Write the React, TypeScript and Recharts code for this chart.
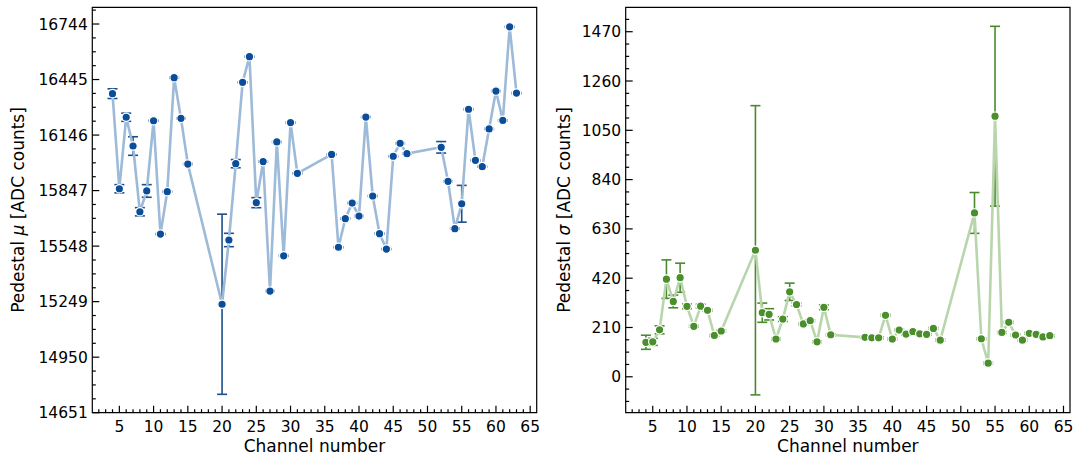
import React from 'react';
import { ComposedChart, Line, XAxis, YAxis, ErrorBar, ReferenceArea, Label } from 'recharts';

const channels = [4, 5, 6, 7, 8, 9, 10, 11, 12, 13, 14, 15, 20, 21, 22, 23, 24, 25, 26, 27, 28, 29, 30, 31, 36, 37, 38, 39, 40, 41, 42, 43, 44, 45, 46, 47, 52, 53, 54, 55, 56, 57, 58, 59, 60, 61, 62, 63];

const pedestalMu = [16369, 15857, 16242, 16087, 15733, 15845, 16223, 15613, 15841, 16455, 16236, 15990,
  15235, 15581, 15992, 16430, 16568, 15782, 16003, 15306, 16109, 15496, 16213, 15940,
  16042, 15542, 15696, 15780, 15710, 16243, 15818, 15615, 15532, 16032, 16102, 16046,
  16080, 15897, 15642, 15776, 16285, 16010, 15976, 16179, 16383, 16225, 16729, 16372];

const pedestalMuErr = [26, 22, 22, 50, 22, 34, 3, 3, 3, 3, 3, 3,
  485, 36, 22, 3, 3, 27, 3, 3, 3, 3, 3, 3,
  3, 3, 3, 3, 3, 3, 3, 3, 3, 3, 3, 3,
  31, 3, 3, 99, 3, 3, 3, 3, 3, 3, 3, 3];

const pedestalSigma = [147, 149, 200, 416, 321, 422, 300, 215, 301, 283, 176, 195,
  539, 273, 266, 161, 246, 362, 308, 225, 239, 149, 296, 179,
  168, 166, 166, 262, 161, 199, 182, 193, 183, 181, 206, 156,
  698, 162, 58, 1110, 189, 232, 178, 156, 185, 181, 170, 175];

const pedestalSigmaErr = [30, 15, 17, 82, 27, 62, 10, 4, 8, 4, 4, 4,
  616, 41, 24, 4, 10, 37, 6, 4, 4, 4, 10, 4,
  4, 4, 4, 4, 4, 4, 4, 4, 4, 4, 4, 4,
  87, 4, 4, 383, 4, 4, 4, 4, 4, 4, 4, 4];

const xMajorTicks = [5, 10, 15, 20, 25, 30, 35, 40, 45, 50, 55, 60, 65];
const muMajorTicks = [14651, 14950, 15249, 15548, 15847, 16146, 16445, 16744];
const sigmaMajorTicks = [0, 210, 420, 630, 840, 1050, 1260, 1470];

const xDomain: [number, number] = [1.05, 65.95];
const muDomain: [number, number] = [14651, 16834];
const sigmaDomain: [number, number] = [-153, 1574];

const FONT = "'DejaVu Sans', sans-serif";
const TICK_FS = 15.5;
const LABEL_FS = 17;

function minorTicks(majors: number[], ndiv: number, domain: [number, number]) {
  const step = (majors[1] - majors[0]) / ndiv;
  const out: number[] = [];
  const start = majors[0] - step * Math.floor((majors[0] - domain[0]) / step);
  for (let v = start; v <= domain[1] + 1e-9; v += step) out.push(Math.round(v * 100) / 100);
  return out;
}

const xAllTicks = minorTicks(xMajorTicks, 5, xDomain);
const muAllTicks = minorTicks(muMajorTicks, 4, muDomain);
const sigmaAllTicks = minorTicks(sigmaMajorTicks, 4, sigmaDomain);

const isMajor = (majors: number[], v: number) => majors.some((m) => Math.abs(m - v) < 1e-6);

const makeXTick = (majors: number[]) => (props: any) => {
  const { x, y, payload } = props;
  const major = isMajor(majors, payload.value);
  return (
    <g>
      <line x1={x} x2={x} y1={y} y2={y - (major ? 7 : 3.5)} stroke="#000" strokeWidth={1.2} />
      {major && (
        <text x={x} y={y + 18.8} textAnchor="middle" fontSize={TICK_FS} fontFamily={FONT} fill="#000">
          {payload.value}
        </text>
      )}
    </g>
  );
};

const makeYTick = (majors: number[]) => (props: any) => {
  const { x, y, payload } = props;
  const major = isMajor(majors, payload.value);
  return (
    <g>
      <line x1={x} x2={x + (major ? 7 : 3.5)} y1={y} y2={y} stroke="#000" strokeWidth={1.2} />
      {major && (
        <text x={x - 4.5} y={y} dy="0.36em" textAnchor="end" fontSize={TICK_FS} fontFamily={FONT} fill="#000">
          {payload.value}
        </text>
      )}
    </g>
  );
};

const XLabel = (props: any) => {
  const { viewBox } = props;
  const cx = viewBox.x + viewBox.width / 2;
  return (
    <text x={cx} y={viewBox.y + 39} textAnchor="middle" fontSize={LABEL_FS} fontFamily={FONT} fill="#000">
      Channel number
    </text>
  );
};

const makeYLabel = (symbol: string, cxOffset: number) => (props: any) => {
  const { viewBox } = props;
  const cx = viewBox.x + cxOffset;
  const cy = viewBox.y + viewBox.height / 2;
  return (
    <text
      x={cx}
      y={cy}
      dy="0.35em"
      textAnchor="middle"
      transform={`rotate(-90, ${cx}, ${cy})`}
      fontSize={LABEL_FS}
      fontFamily={FONT}
      fill="#000"
    >
      Pedestal <tspan fontStyle="italic">{symbol}</tspan> [ADC counts]
    </text>
  );
};

const muData = channels.map((ch, i) => ({ ch, v: pedestalMu[i], e: pedestalMuErr[i] }));
const sigmaData = channels.map((ch, i) => ({ ch, v: pedestalSigma[i], e: pedestalSigmaErr[i] }));

type PanelProps = {
  data: { ch: number; v: number; e: number }[];
  width: number;
  yWidth: number;
  rightMargin: number;
  yDomain: [number, number];
  yTicks: number[];
  yMajors: number[];
  lineColor: string;
  markerColor: string;
  errColor: string;
  symbol: string;
  labelOffset: number;
};

function Panel(p: PanelProps) {
  return (
    <ComposedChart
      width={p.width}
      height={457}
      data={p.data}
      margin={{ top: 7.3, right: p.rightMargin, bottom: 0, left: 0 }}
    >
      <XAxis
        type="number"
        dataKey="ch"
        domain={xDomain}
        ticks={xAllTicks}
        interval={0}
        allowDataOverflow
        axisLine={false}
        tickLine={false}
        tickSize={0}
        tickMargin={0}
        height={44.3}
        tick={makeXTick(xMajorTicks)}
      >
        <Label content={XLabel} />
      </XAxis>
      <YAxis
        type="number"
        domain={p.yDomain}
        ticks={p.yTicks}
        interval={0}
        allowDataOverflow
        axisLine={false}
        tickLine={false}
        tickSize={0}
        tickMargin={0}
        width={p.yWidth}
        tick={makeYTick(p.yMajors)}
      >
        <Label content={makeYLabel(p.symbol, p.labelOffset)} />
      </YAxis>
      <Line
        type="linear"
        dataKey="v"
        stroke={p.lineColor}
        strokeWidth={2.6}
        dot={{ r: 4.2, fill: p.markerColor, stroke: '#ffffff', strokeWidth: 1.2 }}
        activeDot={false}
        isAnimationActive={false}
      >
        <ErrorBar dataKey="e" width={5} strokeWidth={1.6} stroke={p.errColor} direction="y" isAnimationActive={false} />
      </Line>
      <ReferenceArea
        x1={xDomain[0]}
        x2={xDomain[1]}
        y1={p.yDomain[0]}
        y2={p.yDomain[1]}
        fill="none"
        fillOpacity={0}
        stroke="#000"
        strokeWidth={1.2}
        ifOverflow="visible"
      />
    </ComposedChart>
  );
}

export default function App() {
  return (
    <div style={{ position: 'absolute', left: 0, top: 0, width: 1075, height: 457, background: '#fff' }}>
      <div style={{ position: 'absolute', left: 0, top: 0 }}>
        <Panel
          data={muData}
          width={545}
          yWidth={92.3}
          rightMargin={8.3}
          yDomain={muDomain}
          yTicks={muAllTicks}
          yMajors={muMajorTicks}
          lineColor="#9dbad8"
          markerColor="#0a4d9a"
          errColor="#1d4f8c"
          symbol="μ"
          labelOffset={18.5}
        />
      </div>
      <div style={{ position: 'absolute', left: 545, top: 0 }}>
        <Panel
          data={sigmaData}
          width={530}
          yWidth={80.7}
          rightMargin={5}
          yDomain={sigmaDomain}
          yTicks={sigmaAllTicks}
          yMajors={sigmaMajorTicks}
          lineColor="#b9d5ac"
          markerColor="#4a8f2c"
          errColor="#4a8a2e"
          symbol="σ"
          labelOffset={19}
        />
      </div>
    </div>
  );
}
